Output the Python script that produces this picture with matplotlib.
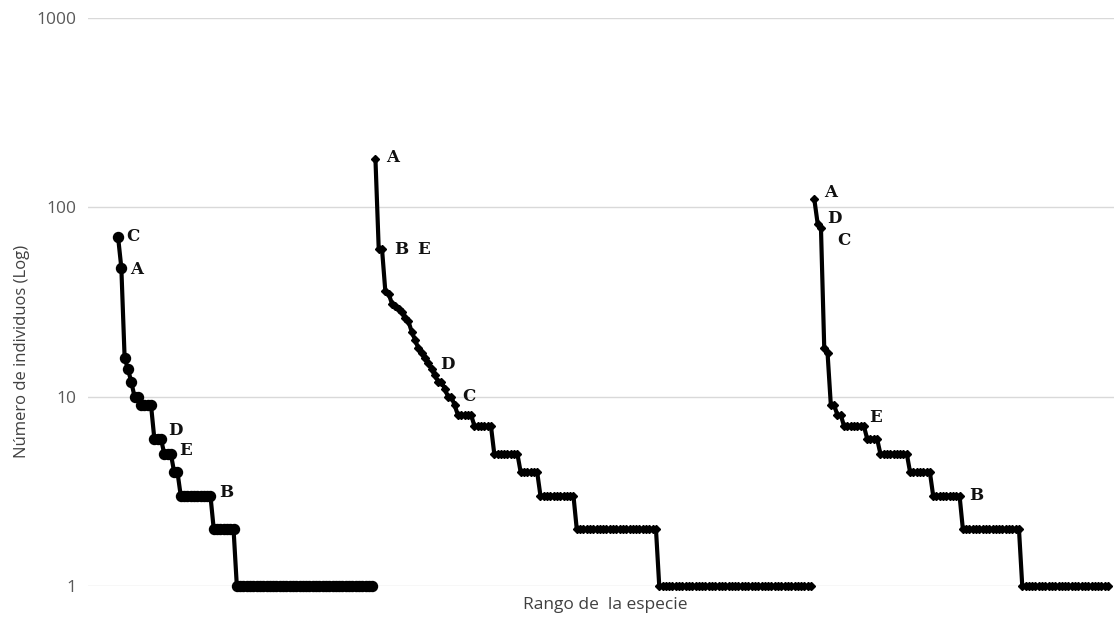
import matplotlib
matplotlib.use("Agg")
import matplotlib.pyplot as plt
import numpy as np

# abundance per rank (three communities, side by side)
left_vals = [70, 48, 16, 14, 12, 10, 10, 9, 9, 9, 9, 6, 6, 6, 5, 5, 5, 4, 4] \
    + [3] * 10 + [2] * 7 + [1] * 42
mid_vals = [180, 60, 60, 36, 35, 31, 30, 29, 28, 26, 25, 22, 20, 18, 17, 16,
            15, 14, 13, 12, 12, 11, 10, 10, 9] \
    + [8] * 5 + [7] * 6 + [5] * 8 + [4] * 6 + [3] * 11 + [2] * 25 + [1] * 47
right_vals = [110, 82, 78, 18, 17, 9, 9, 8, 8] \
    + [7] * 7 + [6] * 4 + [5] * 9 + [4] * 7 + [3] * 9 + [2] * 18 + [1] * 27

# species letters: (rank index inside the series, letter)
left_labels = [(0, 'C'), (1, 'A'), (13, 'D'), (16, 'E'), (28, 'B')]
mid_labels = [(0, 'A'), (1, 'B'), (2, 'E'), (17, 'D'), (23, 'C')]
right_labels = [(0, 'A'), (1, 'D'), (2, 'C'), (15, 'E'), (44, 'B')]

yticks = [1, 10, 100, 1000]

# label offsets in points
lab_off = {
    'left': {'C': (6, 0), 'A': (6, -1), 'D': (5, 6), 'E': (6, 2), 'B': (6, 2)},
    'mid': {'A': (8, 1), 'B': (11, 0), 'E': (25, 0), 'D': (6, 3), 'C': (8, 0)},
    'right': {'A': (7, 5), 'D': (7, 4), 'C': (12, -9), 'E': (4, 6), 'B': (7, 0)},
}

fig = plt.figure(figsize=(11.14, 6.25), dpi=100)
ax = fig.add_axes([88 / 1114, 1 - 586 / 625, 1 - 88 / 1114, (586 - 18) / 625])

n1, n2 = len(left_vals), len(mid_vals)
x_left = np.arange(len(left_vals))
x_mid = np.arange(len(mid_vals)) + n1
x_right = np.arange(len(right_vals)) + n1 + n2

ax.plot(x_left, left_vals, color='black', lw=3, marker='o', ms=7.2,
        clip_on=False, zorder=3)
ax.plot(x_mid, mid_vals, color='black', lw=3, marker='D', ms=4,
        clip_on=False, zorder=3)
ax.plot(x_right, right_vals, color='black', lw=3, marker='D', ms=4,
        clip_on=False, zorder=3)

for key, xs, vals, labs in [('left', x_left, left_vals, left_labels),
                            ('mid', x_mid, mid_vals, mid_labels),
                            ('right', x_right, right_vals, right_labels)]:
    for idx, letter in labs:
        ax.annotate(letter, (xs[idx], vals[idx]), xytext=lab_off[key][letter],
                    textcoords='offset points', ha='left', va='center',
                    fontsize=12, fontweight='bold', family='DejaVu Serif',
                    color='#111111', zorder=4)

ax.set_yscale('log')
ax.set_ylim(1, 1000)
ax.set_xlim(-9.1, 301.8)
ax.set_yticks(yticks)
ax.set_yticklabels([str(t) for t in yticks])
ax.minorticks_off()
ax.set_xticks([])
ax.tick_params(axis='y', length=0, pad=8, labelsize=12.5, labelcolor='#595959')
for lab in ax.get_yticklabels():
    lab.set_family('Open Sans')
ax.grid(axis='y', color='#d9d9d9', lw=1)
ax.set_axisbelow(True)
for s in ax.spines.values():
    s.set_visible(False)

fig.text(22 / 1114, 1 - 351 / 625, 'Número de individuos (Log)', rotation=90,
         ha='center', va='center', fontsize=12, color='#404040', family='Open Sans')
fig.text(605 / 1114, 1 - 605 / 625, 'Rango de  la especie', ha='center',
         va='center', fontsize=12.5, color='#404040', family='Open Sans')

fig.savefig('out.png', dpi=100)
